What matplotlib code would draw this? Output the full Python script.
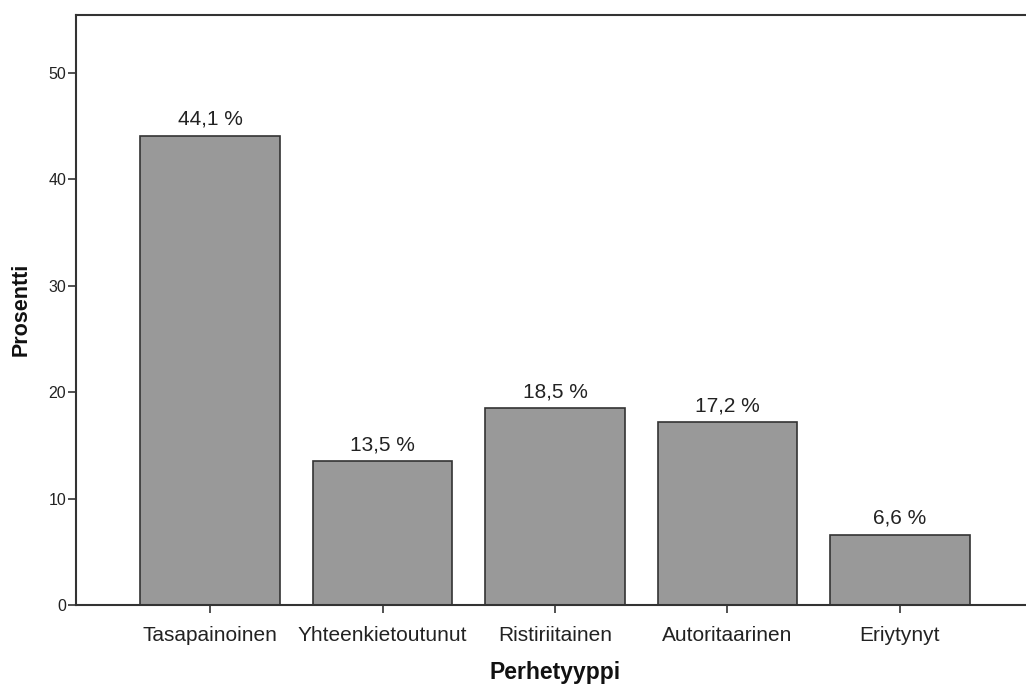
import matplotlib
matplotlib.use("Agg")
import matplotlib.pyplot as plt

categories = ["Tasapainoinen", "Yhteenkietoutunut", "Ristiriitainen", "Autoritaarinen", "Eriytynyt"]
values = [44.1, 13.5, 18.5, 17.2, 6.6]
value_labels = ["44,1 %", "13,5 %", "18,5 %", "17,2 %", "6,6 %"]
yticks = [0, 10, 20, 30, 40, 50]

plt.rcParams['font.family'] = ['Liberation Sans', 'DejaVu Sans']

fig = plt.figure(figsize=(10.26, 6.84), dpi=100)
ax = fig.add_axes([76/1026, 79/684, 958/1026, 590.5/684])

x = list(range(len(categories)))
ax.bar(x, values, width=0.81, color="#999999", edgecolor="#333333", linewidth=1.2, zorder=2)

for xi, v, lab in zip(x, values, value_labels):
    ax.annotate(lab, (xi, v), xytext=(0, 5), textcoords="offset points",
                ha="center", va="bottom", fontsize=15, color="#222222")

ax.set_xlim(-0.777, 4.777)
ax.set_ylim(0, 55.5)
ax.set_xticks(x)
ax.set_xticklabels(categories, fontsize=15, color="#222222")
ax.set_yticks(yticks)
ax.set_yticklabels([str(t) for t in yticks], fontsize=11.5, color="#222222")
ax.tick_params(axis="both", direction="out", length=6, width=1.2, color="#333333")
ax.tick_params(axis="x", pad=9)
ax.tick_params(axis="y", pad=1)

for s in ["left", "top", "bottom"]:
    ax.spines[s].set_color("#333333")
    ax.spines[s].set_linewidth(1.5)
ax.spines["right"].set_visible(False)

ax.set_ylabel("Prosentti", fontsize=15.5, fontweight="bold", color="#111111")
ax.set_xlabel("Perhetyyppi", fontsize=16.5, fontweight="bold", color="#111111", labelpad=12)
ax.yaxis.set_label_coords(-44/958, 0.5)

fig.savefig("out.png", dpi=100)
